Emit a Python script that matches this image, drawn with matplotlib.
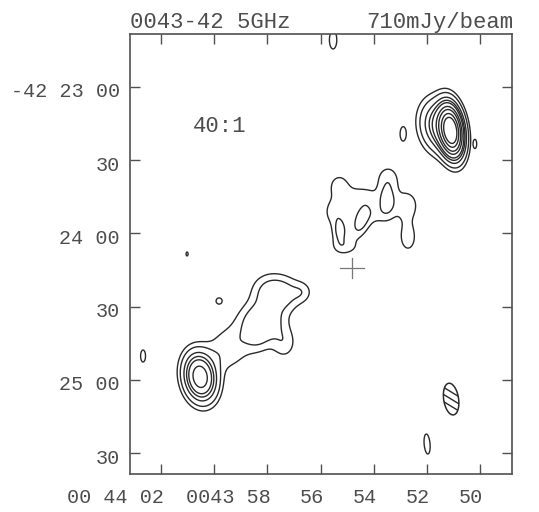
import numpy as np
import matplotlib
matplotlib.use("Agg")
import matplotlib.pyplot as plt
from matplotlib.patches import Polygon
from matplotlib.transforms import ScaledTranslation, blended_transform_factory

# ---- source model: elliptical Gaussian components --------------------------
# RA in seconds relative to 00h44m00s, Dec in arcsec relative to -42d23m00s
# north-east lobe
ne_ra = [-8.91, -8.42]
ne_dec = [-18.03, -15.98]
ne_peak = [640, 140]
ne_major = [6.3, 6.5]
ne_minor = [2.9, 4.5]
ne_angle = [98, 100]

# south-west lobe and jet
sw_ra = [0.534, -2.024, -2.626, -1.573, -2.099, -3.303, -2.626, -0.971, -0.368, -1.648]
sw_dec = [-118.85, -84.02, -84.84, -95.49, -96.31, -84.02, -104.92, -102.87, -108.61, -103.69]
sw_peak = [275, 38, 38, 34, 34, 22, 28, 18, 22, 20]
sw_major = [6.0, 5.0, 5.0, 5.0, 5.0, 3.0, 4.5, 8.0, 6.5, 4.0]
sw_minor = [4.0, 5.0, 5.0, 5.0, 5.0, 3.0, 3.5, 6.0, 5.5, 4.0]
sw_angle = [100, 0, 0, 0, 0, 0, 90, 45, 45, 0]

# central knotty region
mid_ra = [-4.733, -5.523, -6.501, -4.695, -6.539, -7.254, -7.291, -4.921, -4.470, -5.937,
          -5.592, -6.087, -5.109]
mid_dec = [-59.02, -54.92, -46.72, -40.57, -37.30, -48.36, -61.89, -65.57, -51.23, -51.23,
           -44.70, -51.99, -48.36]
mid_peak = [42, 44, 44, 24, 24, 24, 24, 22, 22, 6,
            18, 14, 12]
mid_major = [4.0, 4.8, 4.5, 4.0, 4.0, 5.0, 5.0, 4.0, 4.0, 10.0,
             4.5, 3.0, 4.0]
mid_minor = [2.2, 2.4, 2.4, 3.5, 3.5, 4.0, 3.0, 2.5, 3.0, 10.0,
             3.0, 3.0, 4.0]
mid_angle = [90, 68, 90, 90, 90, 90, 90, 0, 90, 0,
             0, 0, 0]

# isolated faint spots
spot_ra = [-4.470, -7.103, -9.812, 1.023, -0.181, 2.679, -8.006]
spot_dec = [19.26, -19.26, -23.36, -68.44, -87.70, -110.25, -146.31]
spot_peak = [30, 30, 30, 30, 30, 30, 30]
spot_major = [3.6, 2.8, 1.6, 0.8, 1.2, 2.4, 4.0]
spot_minor = [1.5, 1.2, 0.6, 0.4, 1.2, 1.0, 1.2]
spot_angle = [90, 90, 90, 90, 0, 90, 95]

peak_flux = 710.0                                   # mJy/beam
level_percent = [2.5, 5, 10, 15, 20, 30, 40, 55, 70]

# restoring beam (FWHM arcsec, tilt) and optical position
beam_ra, beam_dec = -8.91, -127.9
beam_major, beam_minor, beam_angle = 13.1, 6.2, 99
cross_ra, cross_dec = -5.18, -74.2

x_ticks = [2, 0, -2, -4, -6, -8, -10]
x_labels = ["00 44 02", "", "0043 58", "56", "54", "52", "50"]
y_ticks = [0, -30, -60, -90, -120, -150]
y_labels = ["-42 23 00", "30", "24 00", "30", "25 00", "30"]

ra_lim = (3.17, -11.20)
dec_lim = (-158.6, 21.7)
ARCSEC_PER_S = 15.0 * np.cos(np.radians(42.39))

# ---- build the map -----------------------------------------------------------
ra = np.linspace(ra_lim[1], ra_lim[0], 700)
dec = np.linspace(dec_lim[0], dec_lim[1], 760)
RA, DEC = np.meshgrid(ra, dec)
image = np.zeros_like(RA)
groups = [
    (ne_ra, ne_dec, ne_peak, ne_major, ne_minor, ne_angle),
    (sw_ra, sw_dec, sw_peak, sw_major, sw_minor, sw_angle),
    (mid_ra, mid_dec, mid_peak, mid_major, mid_minor, mid_angle),
    (spot_ra, spot_dec, spot_peak, spot_major, spot_minor, spot_angle),
]
for g in groups:
    for x0, y0, amp, smaj, smin, ang in zip(*g):
        u = -(RA - x0) * ARCSEC_PER_S
        v = DEC - y0
        t = np.radians(ang)
        a = u * np.cos(t) + v * np.sin(t)
        b = -u * np.sin(t) + v * np.cos(t)
        image += amp * np.exp(-0.5 * ((a / smaj) ** 2 + (b / smin) ** 2))

levels = [peak_flux * p / 100.0 for p in level_percent]

# ---- figure ----------------------------------------------------------------
ink = "#2a2a2a"
text_ink = "#4d4d4d"
mono = ["Liberation Mono", "DejaVu Sans Mono"]

fig = plt.figure(figsize=(5.39, 5.12), dpi=100)
ax = fig.add_axes([130 / 539, 1 - 474 / 512, (512 - 130) / 539, (474 - 34) / 512])
ax.contour(RA, DEC, image, levels=levels, colors=ink, linewidths=1.0)
ax.set_xlim(*ra_lim)
ax.set_ylim(*dec_lim)

# optical position
ax.plot([cross_ra + 0.45, cross_ra - 0.45], [cross_dec, cross_dec],
        color="#777777", lw=0.9)
ax.plot([cross_ra, cross_ra], [cross_dec - 4.1, cross_dec + 4.1],
        color="#777777", lw=0.9)

# hatched beam
tt = np.linspace(0, 2 * np.pi, 200)
th = np.radians(beam_angle)
ea = beam_major / 2 * np.cos(tt)
eb = beam_minor / 2 * np.sin(tt)
eu = ea * np.cos(th) - eb * np.sin(th)
ev = ea * np.sin(th) + eb * np.cos(th)
ell = Polygon(np.column_stack([beam_ra - eu / ARCSEC_PER_S, beam_dec + ev]),
              closed=True, fill=False, edgecolor=ink, lw=1.1)
ax.add_patch(ell)
hd = np.radians(beam_angle - 130)
for off in (-0.5, 0.0, 0.5):
    cu = off * beam_major / 2 * np.cos(th)
    cv = off * beam_major / 2 * np.sin(th)
    s = np.array([-15, 15])
    lu = cu + s * np.cos(hd)
    lv = cv + s * np.sin(hd)
    ln, = ax.plot(beam_ra - lu / ARCSEC_PER_S, beam_dec + lv, color=ink, lw=1.0)
    ln.set_clip_path(ell)

# axes frame and ticks
for sp in ax.spines.values():
    sp.set_color("#505050")
    sp.set_linewidth(1.2)
ax.set_xticks(x_ticks)
ax.set_yticks(y_ticks)
ax.set_xticklabels([])
ax.set_yticklabels([])
ax.tick_params(direction="in", length=7, width=1.0, color="#505050",
               top=True, right=True)

xb = blended_transform_factory(ax.transData, ax.transAxes)
yb = blended_transform_factory(ax.transAxes, ax.transData)
for v, lab in zip(x_ticks, x_labels):
    ax.text(v, 0, lab, transform=xb + ScaledTranslation(3 / 100, -29 / 100, fig.dpi_scale_trans),
            ha="right", va="baseline", family=mono, fontsize=14.5, color=text_ink)
for v, lab in zip(y_ticks, y_labels):
    ax.text(0, v, lab, transform=yb + ScaledTranslation(-10 / 100, -10.5 / 100, fig.dpi_scale_trans),
            ha="right", va="baseline", family=mono, fontsize=14.5, color=text_ink)

ax.text(0.80, -16.0, "40:1", ha="left", va="center", family=mono,
        fontsize=16, color=text_ink)

fig.text(130 / 539, 1 - 28 / 512, "0043-42 5GHz", ha="left", va="baseline",
         family=mono, fontsize=16, color=text_ink)
fig.text(513 / 539, 1 - 28 / 512, "710mJy/beam", ha="right", va="baseline",
         family=mono, fontsize=16, color=text_ink)

fig.savefig("out.png", dpi=100, facecolor="white")
